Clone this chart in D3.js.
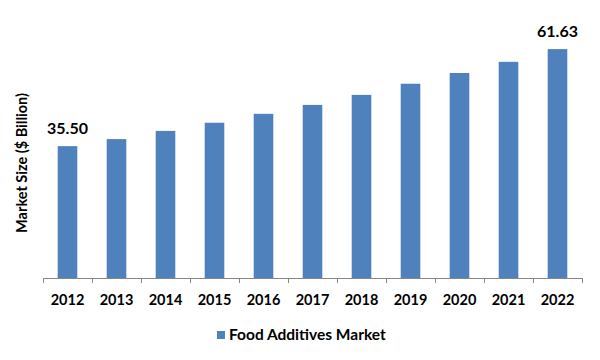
<!DOCTYPE html>
<html>
<head>
<meta charset="utf-8">
<script src="https://cdn.jsdelivr.net/npm/d3@7"></script>
<style>
html,body{margin:0;padding:0;background:#fff;}
text{font-family:Lato,"Open Sans",sans-serif;font-weight:bold;fill:#000;}
</style>
</head>
<body>
<svg id="chart" width="600" height="360"></svg>
<script>
const categories = ["2012","2013","2014","2015","2016","2017","2018","2019","2020","2021","2022"];
const values = [35.50, 37.4, 39.6, 41.8, 44.2, 46.6, 49.3, 52.3, 55.2, 58.2, 61.63];
const labelled = ["2012","2022"];
const seriesName = "Food Additives Market";
const yTitle = "Market Size ($ Billion)";

(function () {
const svg = d3.select("#chart");
const mLeft = 43, mRight = 582, mTop = 18, mBottom = 278;
const color = "#4F81BD";

const x = d3.scaleBand().domain(categories).range([mLeft, mRight]).paddingInner(0.6).paddingOuter(0.3);
const y = d3.scaleLinear().domain([0, 70]).range([mBottom, mTop]);

svg.append("g").selectAll("rect").data(categories).join("rect")
  .attr("x", d => x(d))
  .attr("y", (d, i) => y(values[i]))
  .attr("width", x.bandwidth())
  .attr("height", (d, i) => y(0) - y(values[i]))
  .attr("fill", color);

svg.append("g").selectAll("text").data(categories.filter(c => labelled.includes(c))).join("text")
  .attr("x", d => x(d) + x.bandwidth() / 2)
  .attr("y", d => y(values[categories.indexOf(d)]) - 12)
  .attr("text-anchor", "middle")
  .attr("font-size", 16)
  .text(d => values[categories.indexOf(d)].toFixed(2));

// x axis
const step = (mRight - mLeft) / categories.length;
const ax = svg.append("g");
ax.append("line").attr("x1", mLeft).attr("x2", mRight).attr("y1", mBottom + 0.5).attr("y2", mBottom + 0.5)
  .attr("stroke", "#868686").attr("stroke-width", 1);
d3.range(categories.length + 1).forEach(i => {
  const xx = Math.round(mLeft + i * step) + 0.5;
  ax.append("line").attr("x1", xx).attr("x2", xx).attr("y1", mBottom).attr("y2", mBottom + 5)
    .attr("stroke", "#868686");
});
ax.selectAll("text.tick").data(categories).join("text")
  .attr("class", "tick")
  .attr("x", d => x(d) + x.bandwidth() / 2)
  .attr("y", 305)
  .attr("text-anchor", "middle")
  .attr("font-size", 14.5)
  .text(d => d);

// y title
svg.append("text")
  .attr("transform", "translate(27,163) rotate(-90)")
  .attr("text-anchor", "middle")
  .attr("font-size", 14.5)
  .text(yTitle);

// legend
svg.append("rect").attr("x", 217).attr("y", 331).attr("width", 8).attr("height", 8).attr("fill", color);
svg.append("text").attr("x", 229).attr("y", 339.5).attr("font-size", 15.5).text(seriesName);
})();
</script>
</body>
</html>
